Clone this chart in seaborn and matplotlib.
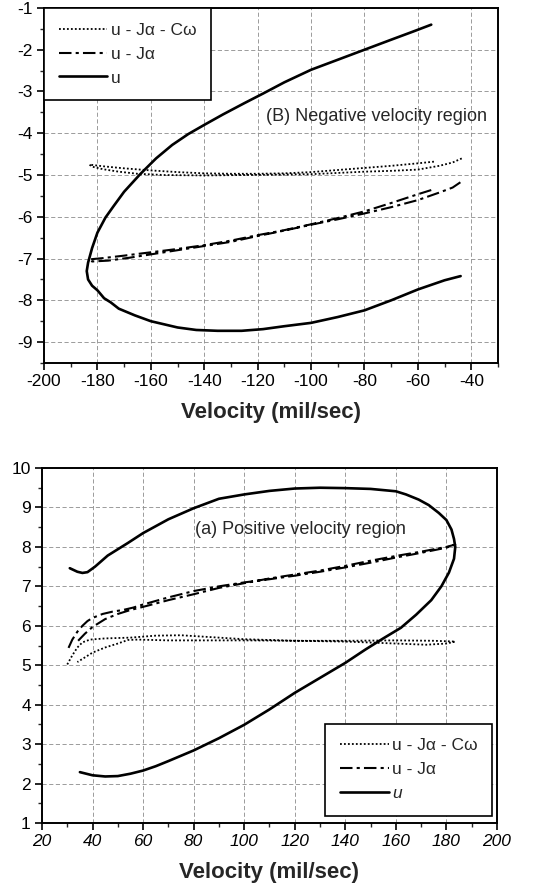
import numpy as np
import pandas as pd
import matplotlib
matplotlib.use("Agg")
import matplotlib.pyplot as plt
import seaborn as sns
from matplotlib.ticker import MultipleLocator

# ---------------- data: (B) negative velocity region ----------------
neg_u_x = [-55, -62, -70, -80, -90, -100, -110, -118, -125, -133, -140, -146, -152, -158, -164,
           -170, -174, -177, -180, -182, -183.5, -184, -183.5, -182, -180, -177.5, -175, -172,
           -166, -160, -150, -143, -135, -126, -118, -110, -100, -90, -80, -70, -60, -50, -44]
neg_u_y = [-1.4, -1.57, -1.76, -2.0, -2.24, -2.48, -2.78, -3.05, -3.28, -3.55, -3.8, -4.02, -4.28,
           -4.6, -4.98, -5.4, -5.75, -6.02, -6.38, -6.75, -7.1, -7.3, -7.5, -7.65, -7.76, -7.95,
           -8.05, -8.2, -8.36, -8.5, -8.65, -8.71, -8.73, -8.73, -8.69, -8.62, -8.54, -8.4, -8.24,
           -8.0, -7.74, -7.52, -7.42]

neg_uja_x = [-55, -60, -70, -80, -90, -100, -110, -120, -130, -140, -150, -160, -170, -178, -183,
             -182, -176, -168, -160, -150, -140, -130, -120, -110, -100, -90, -80, -70, -60, -52,
             -47, -44]
neg_uja_y = [-5.36, -5.46, -5.67, -5.87, -6.03, -6.18, -6.32, -6.44, -6.57, -6.68, -6.77, -6.85,
             -6.93, -6.99, -7.02, -7.07, -7.05, -6.98, -6.9, -6.8, -6.7, -6.6, -6.46, -6.33, -6.19,
             -6.06, -5.92, -5.77, -5.6, -5.42, -5.3, -5.17]

neg_ujac_x = [-54, -60, -70, -80, -90, -100, -110, -120, -130, -140, -150, -160, -170, -178, -183,
              -182, -178, -172, -165, -155, -140, -125, -110, -100, -90, -80, -70, -60, -52, -47,
              -43.5]
neg_ujac_y = [-4.68, -4.72, -4.78, -4.83, -4.88, -4.93, -4.96, -4.97, -4.97, -4.96, -4.93, -4.89,
              -4.84, -4.79, -4.75, -4.8, -4.86, -4.92, -4.97, -5.0, -5.01, -5.0, -4.99, -4.98,
              -4.95, -4.92, -4.9, -4.87, -4.78, -4.7, -4.6]

# ---------------- data: (a) positive velocity region ----------------
pos_u_x = [35, 40, 45, 50, 55, 60, 65, 70, 80, 90, 100, 110, 120, 130, 140, 148, 155, 162, 168,
           174, 178, 181, 183, 183.5, 183, 182, 180, 177, 173, 169, 164, 160, 150, 140, 130, 120,
           110, 100, 90, 80, 70, 60, 54, 46, 41, 38, 36, 34, 31]
pos_u_y = [2.29, 2.21, 2.18, 2.19, 2.25, 2.33, 2.44, 2.57, 2.84, 3.15, 3.49, 3.88, 4.3, 4.68, 5.06,
           5.4, 5.68, 5.95, 6.28, 6.65, 7.0, 7.35, 7.7, 8.0, 8.2, 8.44, 8.68, 8.86, 9.06, 9.2, 9.33,
           9.41, 9.47, 9.49, 9.5, 9.48, 9.42, 9.33, 9.22, 8.98, 8.7, 8.35, 8.1, 7.78, 7.5, 7.36,
           7.34, 7.37, 7.46]

pos_uja_x = [30.5, 32, 34, 36, 38, 40, 44, 48, 52, 56, 60, 70, 80, 90, 100, 110, 120, 130, 140,
             150, 160, 170, 180, 183.5, 180, 170, 160, 150, 140, 130, 120, 110, 100, 90, 80, 70,
             60, 55, 50, 45, 40, 37, 34]
pos_uja_y = [5.44, 5.65, 5.85, 6.0, 6.12, 6.2, 6.3, 6.36, 6.4, 6.46, 6.54, 6.72, 6.88, 7.0, 7.1,
             7.18, 7.27, 7.37, 7.48, 7.6, 7.73, 7.85, 7.98, 8.06, 8.0, 7.88, 7.77, 7.65, 7.52, 7.4,
             7.3, 7.2, 7.08, 6.96, 6.8, 6.65, 6.48, 6.4, 6.3, 6.17, 5.97, 5.8, 5.6]

pos_ujac_x = [30, 32, 34, 36, 39, 45, 55, 65, 75, 85, 100, 120, 140, 160, 175, 183.5, 180, 172,
              160, 140, 120, 100, 85, 70, 58, 54, 50, 45, 40, 37, 34]
pos_ujac_y = [5.02, 5.25, 5.45, 5.58, 5.65, 5.68, 5.7, 5.75, 5.76, 5.72, 5.66, 5.62, 5.62, 5.63,
              5.62, 5.6, 5.55, 5.52, 5.55, 5.6, 5.62, 5.63, 5.63, 5.63, 5.65, 5.64, 5.55, 5.45,
              5.32, 5.2, 5.08]

labels = ["u - J\u03b1 - C\u03c9", "u - J\u03b1", "u"]
neg_xticks = [-200, -180, -160, -140, -120, -100, -80, -60, -40]
neg_yticks = [-9, -8, -7, -6, -5, -4, -3, -2, -1]
pos_xticks = [20, 40, 60, 80, 100, 120, 140, 160, 180, 200]
pos_yticks = [1, 2, 3, 4, 5, 6, 7, 8, 9, 10]

# ---------------- style ----------------
sns.set_theme(style="ticks")
plt.rcParams['font.family'] = ['Liberation Sans', 'DejaVu Sans']
plt.rcParams['axes.linewidth'] = 1.4
plt.rcParams['axes.unicode_minus'] = False

fig = plt.figure(figsize=(5.48, 8.94), dpi=100)
fig.patch.set_facecolor("white")
ax1 = fig.add_axes([0.0803, 0.594, 0.8285, 0.3971])
ax2 = fig.add_axes([0.0766, 0.0794, 0.8303, 0.3971])

def draw(ax, series):
    styles = [dict(linestyle=(0, (1, 1.2)), linewidth=1.3),
              dict(linestyle=(0, (6, 2, 1.5, 2)), linewidth=1.5),
              dict(linestyle="-", linewidth=1.9)]
    for (x, y), lab, st in zip(series, labels, styles):
        sns.lineplot(x=x, y=y, sort=False, estimator=None, color="black",
                     label=lab, ax=ax, **st)

draw(ax1, [(neg_ujac_x, neg_ujac_y), (neg_uja_x, neg_uja_y), (neg_u_x, neg_u_y)])
draw(ax2, [(pos_ujac_x, pos_ujac_y), (pos_uja_x, pos_uja_y), (pos_u_x, pos_u_y)])

def style_axes(ax, xticks, yticks, xlim, ylim):
    ax.set_xlim(*xlim)
    ax.set_ylim(*ylim)
    ax.set_xticks(xticks)
    ax.set_yticks(yticks)
    ax.xaxis.set_minor_locator(MultipleLocator(10))
    ax.yaxis.set_minor_locator(MultipleLocator(0.5))
    ax.grid(True, which="major", color="0.55", linestyle=(0, (5, 3)), linewidth=0.6)
    ax.tick_params(which="major", direction="out", length=5, width=1.2, labelsize=12.5,
                   colors="black", pad=3)
    ax.tick_params(which="minor", direction="out", length=3, width=1.0)
    for s in ax.spines.values():
        s.set_visible(True)
        s.set_color("black")
        s.set_linewidth(1.4)
    ax.set_xlabel("Velocity (mil/sec)", fontsize=16, fontweight="bold", labelpad=9)
    ax.set_ylabel("")

style_axes(ax1, neg_xticks, neg_yticks, (-200, -30), (-9.5, -1))
style_axes(ax2, pos_xticks, pos_yticks, (20, 200), (1, 10))
for t in ax2.get_xticklabels():
    t.set_fontstyle("italic")

ax1.text(-34, -3.6, "(B) Negative velocity region", fontsize=13, va="center", ha="right")
ax2.text(80.5, 8.43, "(a) Positive velocity region", fontsize=13, va="center", ha="left")

leg_kw = dict(frameon=True, fancybox=False, framealpha=1, edgecolor="black",
              fontsize=12.5, handlelength=2.8, handletextpad=0.2, labelspacing=0.5,
              borderpad=0.85, borderaxespad=0)
l1 = ax1.legend(loc="upper left", bbox_to_anchor=(0, 1), **leg_kw)
l2 = ax2.legend(loc="lower right", bbox_to_anchor=(0.99, 0.02), **leg_kw)
for l in (l1, l2):
    l.get_frame().set_linewidth(1.2)
l2.get_texts()[2].set_fontstyle("italic")

fig.savefig("out.png", dpi=100, facecolor="white")
